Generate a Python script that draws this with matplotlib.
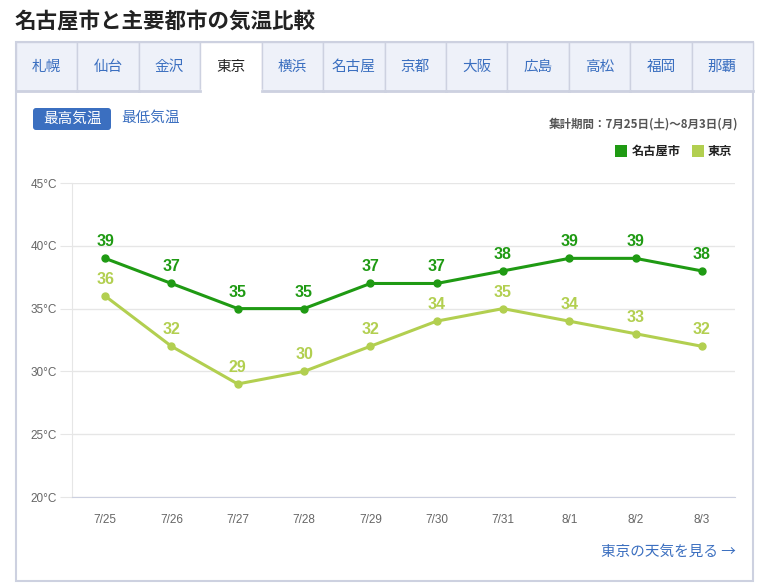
import matplotlib.pyplot as plt
from matplotlib.patches import Rectangle, FancyBboxPatch

plt.rcParams['font.family'] = ['Noto Sans CJK JP', 'DejaVu Sans']
num_font = ['Liberation Sans', 'DejaVu Sans']

dates = ['7/25', '7/26', '7/27', '7/28', '7/29', '7/30', '7/31', '8/1', '8/2', '8/3']
nagoya = [39, 37, 35, 35, 37, 37, 38, 39, 39, 38]
tokyo = [36, 32, 29, 30, 32, 34, 35, 34, 33, 32]
tabs = ['札幌', '仙台', '金沢', '東京', '横浜', '名古屋', '京都', '大阪', '広島', '高松', '福岡', '那覇']
active_tab = '東京'
yticks = [20, 25, 30, 35, 40, 45]

c_nagoya = '#1f9a13'
c_tokyo = '#b2cf50'
c_blue = '#3b6fc0'
W, H = 769, 587

fig = plt.figure(figsize=(W / 100, H / 100), dpi=100)
fig.patch.set_facecolor('white')

# page-space overlay axes (pixel coordinates, y down)
bg = fig.add_axes([0, 0, 1, 1])
bg.set_xlim(0, W)
bg.set_ylim(H, 0)
bg.axis('off')

bg.text(15, 21, '名古屋市と主要都市の気温比較', fontsize=15.5, fontweight='bold',
        color='#222222', va='center', ha='left')

# outer panel
bg.add_patch(Rectangle((16, 42), 737, 539, fill=False, edgecolor='#cdd1e0', lw=1.5))

# tabs
tab_w = 737 / len(tabs)
for i, t in enumerate(tabs):
    x0 = 16 + i * tab_w
    if t == active_tab:
        bg.add_patch(Rectangle((x0, 42), tab_w, 49, facecolor='white', edgecolor='#cdd1e0', lw=1))
        bg.plot([x0 + 1, x0 + tab_w - 1], [91, 91], color='white', lw=2.5)
        col = '#222222'
    else:
        bg.add_patch(Rectangle((x0, 42), tab_w, 49, facecolor='#eef1f9', edgecolor='#cdd1e0', lw=1))
        col = c_blue
    bg.text(x0 + tab_w / 2, 67, t, fontsize=10.5, color=col, ha='center', va='center')
for i, t in enumerate(tabs):
    if t != active_tab:
        x0 = 16 + i * tab_w
        bg.plot([x0, x0 + tab_w], [91, 91], color='#cdd1e0', lw=2)

# toggle buttons
bg.add_patch(FancyBboxPatch((33, 108), 78, 22, boxstyle='round,pad=0,rounding_size=3',
                            facecolor=c_blue, edgecolor='none'))
bg.text(72, 119, '最高気温', fontsize=10.5, color='white', ha='center', va='center')
bg.text(121, 118, '最低気温', fontsize=10.5, color=c_blue, ha='left', va='center')

bg.text(738, 124, '集計期間：7月25日(土)〜8月3日(月)', fontsize=8.3, fontweight='bold',
        color='#555555', ha='right', va='center')

# legend
bg.add_patch(Rectangle((615, 145), 12, 12, facecolor=c_nagoya, edgecolor='none'))
bg.text(632, 151, '名古屋市', fontsize=8.8, fontweight='bold', color='#222222', ha='left', va='center')
bg.add_patch(Rectangle((692, 145), 12, 12, facecolor=c_tokyo, edgecolor='none'))
bg.text(708, 151, '東京', fontsize=8.8, fontweight='bold', color='#222222', ha='left', va='center')

bg.text(736, 552, '東京の天気を見る →', fontsize=10.5, color=c_blue, ha='right', va='center')

# chart
ax = fig.add_axes([72 / W, 1 - 497 / H, (735 - 72) / W, (497 - 183) / H])
ax.set_facecolor('none')
x = list(range(len(dates)))
ax.plot(x, nagoya, color=c_nagoya, lw=2.2, marker='o', ms=5, zorder=3)
ax.plot(x, tokyo, color=c_tokyo, lw=2.2, marker='o', ms=5, zorder=3)
for xi, v in zip(x, nagoya):
    ax.annotate(str(v), (xi, v), xytext=(0, 6.5), textcoords='offset points', ha='center',
                va='bottom', fontsize=11.5, fontweight='bold', color=c_nagoya, family=num_font)
for xi, v in zip(x, tokyo):
    ax.annotate(str(v), (xi, v), xytext=(0, 6.5), textcoords='offset points', ha='center',
                va='bottom', fontsize=11.5, fontweight='bold', color=c_tokyo, family=num_font)

ax.set_xlim(-0.5, len(dates) - 0.5)
ax.set_ylim(20, 45)
ax.set_yticks(yticks)
ax.set_yticklabels([f'{v}°C' for v in yticks], family=num_font)
ax.set_xticks(x)
ax.set_xticklabels(dates, family=num_font)
ax.grid(axis='y', color='#e6e6e6', lw=1)
ax.set_axisbelow(True)
for s in ['top', 'right']:
    ax.spines[s].set_visible(False)
ax.spines['left'].set_color('#e6e6e6')
ax.spines['bottom'].set_color('#ccd0e0')
ax.tick_params(axis='y', length=9, color='#e6e6e6', labelsize=8.5, labelcolor='#666666', pad=2)
ax.tick_params(axis='x', length=0, labelsize=8.5, labelcolor='#666666', pad=12)

fig.savefig('out.png', dpi=100)
